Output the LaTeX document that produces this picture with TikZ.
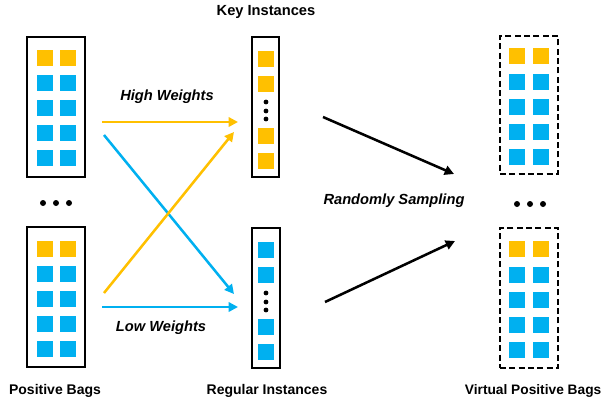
\documentclass[tikz,border=0pt]{standalone}
\usepackage{fontspec}
\setmainfont{Liberation Sans}
\usetikzlibrary{arrows.meta}
\definecolor{orng}{HTML}{FFC000}
\definecolor{blu}{HTML}{00B0F0}
\tikzset{
  sq/.style={minimum size=12pt,inner sep=0pt,outer sep=0pt},
  osq/.style={sq,fill=orng},
  bsq/.style={sq,fill=blu},
  bagbox/.style={draw=black,line width=1.6pt,inner sep=0pt},
  vbox/.style={draw=black,line width=1.6pt,dash pattern=on 4.5pt off 2.5pt,inner sep=0pt},
  arr/.style={line width=1.9pt,-{Triangle[length=7pt,width=7pt]}},
  lbl/.style={font=\bfseries\fontsize{10.5pt}{12pt}\selectfont},
  vlbl/.style={font=\bfseries\fontsize{10.3pt}{12pt}\selectfont},
  klbl/.style={font=\bfseries\fontsize{11pt}{13pt}\selectfont},
  ilbl/.style={font=\bfseries\itshape\fontsize{11pt}{13pt}\selectfont},
  dot/.style={circle,fill=black,inner sep=0pt,minimum size=4.5pt},
  sdot/.style={circle,fill=black,inner sep=0pt,minimum size=3.6pt}
}
\begin{document}
\begin{tikzpicture}[x=0.75pt,y=-0.75pt]
\useasboundingbox (0,0) rectangle (606,411);
% positive bags
\node[bagbox,minimum width=43.5pt,minimum height=105pt] (pb1) at (56,107) {};
\node[bagbox,minimum width=43.5pt,minimum height=105pt] (pb2) at (56,297) {};
\foreach \cx in {45,68}{
  \node[osq] at (\cx,58) {};
  \foreach \cy in {83,108,133,158} \node[bsq] at (\cx,\cy) {};
  \node[osq] at (\cx,249) {};
  \foreach \cy in {274,299,324,349} \node[bsq] at (\cx,\cy) {};
}
% virtual bags
\node[vbox,minimum width=43.5pt,minimum height=103.5pt] (vb1) at (529,105) {};
\node[vbox,minimum width=43.5pt,minimum height=105pt] (vb2) at (529,298) {};
\foreach \cx in {517,541}{
  \node[osq] at (\cx,56) {};
  \foreach \cy in {82,107,132,157} \node[bsq] at (\cx,\cy) {};
  \node[osq] at (\cx,249) {};
  \foreach \cy in {275,300,325,350} \node[bsq] at (\cx,\cy) {};
}
% key / regular instances
\node[bagbox,minimum width=20.5pt,minimum height=105pt] (key) at (265.5,107) {};
\node[bagbox,minimum width=21pt,minimum height=105pt] (reg) at (266,298) {};
\foreach \cy in {59,84,136,161} \node[osq] at (266,\cy) {};
\foreach \cy in {102,111,119} \node[sdot] at (266,\cy) {};
\foreach \cy in {250,275,327,352} \node[bsq] at (266,\cy) {};
\foreach \cy in {293,302,310} \node[sdot] at (266,\cy) {};
% ellipses
\foreach \cx in {43,56,69} \node[dot] at (\cx,203) {};
\foreach \cx in {517,530,543} \node[dot] at (\cx,204) {};
% arrow end points
\coordinate (a1s) at (102,122); \coordinate (a1e) at (238,122);
\coordinate (a2s) at (104,135); \coordinate (a2e) at (234,294);
\coordinate (a3s) at (104,293); \coordinate (a3e) at (234,132);
\coordinate (a4s) at (102,307); \coordinate (a4e) at (238,307);
\coordinate (b1s) at (323,117); \coordinate (b1e) at (454,174);
\coordinate (b2s) at (325,302); \coordinate (b2e) at (455,241);
\draw[arr,orng] (a1s) -- (a1e);
\draw[arr,blu] (a2s) -- (a2e);
\draw[arr,orng] (a3s) -- (a3e);
\draw[arr,blu] (a4s) -- (a4e);
\draw[arr,black] (b1s) -- (b1e);
\draw[arr,black] (b2s) -- (b2e);
% labels
\node[ilbl] (hw) at (167,97) {High Weights};
\node[ilbl] (lw) at (161,328) {Low Weights};
\node[ilbl] (rs) at (394,201) {Randomly Sampling};
\node[klbl] (ki) at (266,12) {Key Instances};
\node[lbl] (pbl) at (55,391) {Positive Bags};
\node[lbl] (ril) at (267,391) {Regular Instances};
\node[vlbl,anchor=east] (vbl) at (606,391) {Virtual Positive Bags};
\end{tikzpicture}
\end{document}
